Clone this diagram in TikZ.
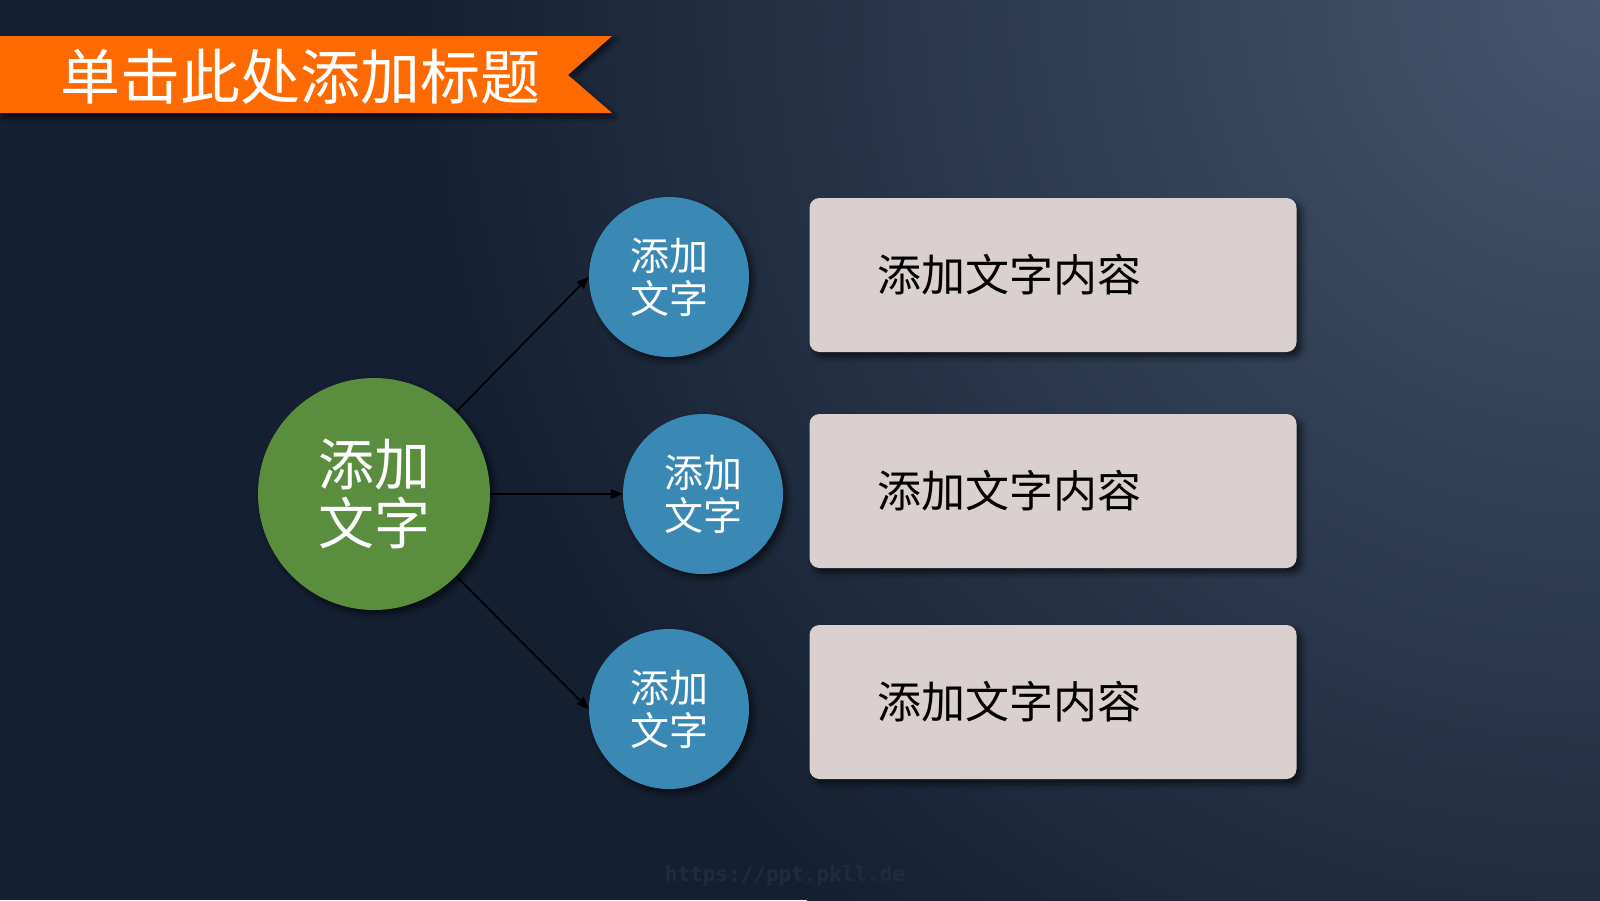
\documentclass[tikz,border=0pt]{standalone}
\usepackage{fontspec}
\setmainfont{Noto Sans CJK SC}
\newfontfamily\wmfont{DejaVu Sans Mono}
\usetikzlibrary{shadows.blur,arrows.meta}
\definecolor{bgdark}{HTML}{141F31}
\definecolor{bglight}{HTML}{46566E}
\definecolor{banner}{HTML}{FF6A00}
\definecolor{hubgreen}{HTML}{5B8D3F}
\definecolor{leafblue}{HTML}{3A89B5}
\definecolor{cardfill}{HTML}{DBD0D0}
\definecolor{wmark}{HTML}{1F2C40}
\begin{document}
\begin{tikzpicture}[x=0.5pt,y=-0.5pt,
    hub/.style={circle,fill=hubgreen,minimum size=116pt,text=white,align=center,
      font=\fontsize{28pt}{29.5pt}\selectfont,
      blur shadow={shadow xshift=2pt,shadow yshift=-2pt,shadow opacity=60,shadow blur radius=3pt}},
    leaf/.style={circle,fill=leafblue,minimum size=80pt,text=white,align=center,
      font=\fontsize{19.5pt}{21.5pt}\selectfont,
      blur shadow={shadow xshift=2pt,shadow yshift=-2pt,shadow opacity=60,shadow blur radius=3pt}},
    card/.style={rectangle,rounded corners=5pt,fill=cardfill,text=black,align=left,
      text width=175.5pt,inner xsep=34pt,minimum height=77pt,
      font=\fontsize{22pt}{24pt}\selectfont,
      blur shadow={shadow xshift=2.5pt,shadow yshift=-2.5pt,shadow opacity=60,shadow blur radius=3pt}},
    link/.style={-{Triangle[length=6pt,width=5pt]},line width=0.8pt,black}]
  \useasboundingbox (0,0) rectangle (1600,900);
  % background
  \fill[bgdark] (0,0) rectangle (1600,900);
  \begin{scope}
    \clip (0,0) rectangle (1600,900);
    \shade[inner color=bglight,outer color=bgdark] (1600,0) circle[radius=1200];
  \end{scope}

  % title band
  \fill[banner,blur shadow={shadow xshift=1.5pt,shadow yshift=-2pt,shadow opacity=60,shadow blur radius=2.5pt}]
    (0,36) -- (612,36) -- (568,75) -- (612,113) -- (0,113) -- cycle;
  \node[anchor=west,inner sep=0pt,text=white,font=\fontsize{30pt}{32pt}\selectfont] (title) at (60,77) {单击此处添加标题};

  \node[hub] (hub) at (374,494) {添加\\文字};
  \foreach \n/\x/\y/\by in {1/669/277/275, 2/703/494/491, 3/669/709/702} {
    \node[leaf] (leaf\n) at (\x,\y) {添加\\文字};
    \node[card] (card\n) at (1053,\by) {添加文字内容};
  }

  \draw[link] (hub.45) -- (leaf1.west);
  \draw[link] (hub.east) -- (leaf2.west);
  \draw[link] (hub.-45) -- (leaf3.west);

  \node[text=wmark,font=\wmfont\bfseries\fontsize{10.5pt}{12pt}\selectfont] (wm) at (785,876) {https://ppt.pkll.de};
\end{tikzpicture}
\end{document}
